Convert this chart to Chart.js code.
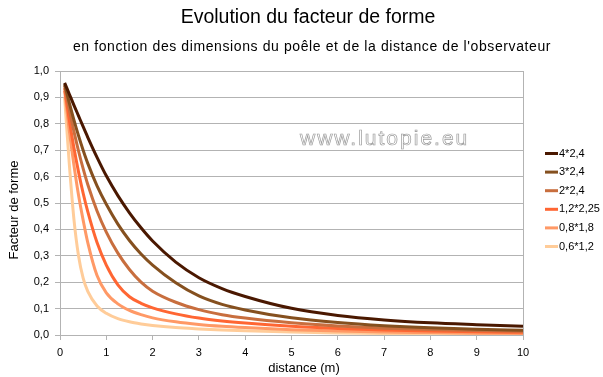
<!DOCTYPE html>
<html>
<head>
<meta charset="utf-8">
<script src="https://cdn.jsdelivr.net/npm/chart.js@4.4.1/dist/chart.umd.min.js"></script>
<style>
  html, body { margin: 0; padding: 0; background: #fff; }
  #box { width: 603px; height: 377px; }
</style>
</head>
<body>
<div id="box"><canvas id="myChart"></canvas></div>
<script>
// distances (m)
var distances = [0.1, 0.2, 0.3, 0.4, 0.5, 0.6, 0.8, 1, 1.25, 1.5, 1.75, 2, 2.5, 3, 3.5, 4, 5, 6, 7, 8, 9, 10];

// facteur de forme
var f4x24 = [0.955, 0.913, 0.871, 0.83, 0.789, 0.749, 0.673, 0.603, 0.528, 0.463, 0.406, 0.356, 0.276, 0.217, 0.176, 0.146, 0.101, 0.074, 0.057, 0.046, 0.039, 0.033];
var f3x24 = [0.95, 0.88, 0.815, 0.755, 0.70, 0.65, 0.565, 0.495, 0.42, 0.358, 0.307, 0.265, 0.198, 0.148, 0.116, 0.095, 0.065, 0.047, 0.035, 0.027, 0.022, 0.018];
var f2x24 = [0.945, 0.855, 0.772, 0.697, 0.63, 0.57, 0.47, 0.39, 0.31, 0.248, 0.2, 0.166, 0.124, 0.096, 0.077, 0.064, 0.046, 0.034, 0.026, 0.021, 0.017, 0.014];
var f12x225 = [0.935, 0.815, 0.71, 0.618, 0.537, 0.467, 0.35, 0.265, 0.19, 0.145, 0.12, 0.103, 0.08, 0.064, 0.053, 0.045, 0.033, 0.025, 0.019, 0.015, 0.012, 0.01];
var f08x18 = [0.925, 0.775, 0.645, 0.53, 0.435, 0.35, 0.225, 0.16, 0.118, 0.093, 0.077, 0.065, 0.05, 0.04, 0.033, 0.028, 0.02, 0.015, 0.011, 0.009, 0.007, 0.006];
var f06x12 = [0.9, 0.65, 0.44, 0.3, 0.215, 0.165, 0.11, 0.082, 0.062, 0.05, 0.042, 0.036, 0.028, 0.023, 0.019, 0.016, 0.011, 0.008, 0.006, 0.005, 0.004, 0.003];

var seriesLabels = ['4*2,4', '3*2,4', '2*2,4', '1,2*2,25', '0,8*1,8', '0,6*1,2'];
var seriesColors = ['#4a1800', '#85501f', '#c86e3e', '#ff6633', '#ff9966', '#ffcc99'];
var seriesValues = [f4x24, f3x24, f2x24, f12x225, f08x18, f06x12];

var xTickLabels = ['0', '1', '2', '3', '4', '5', '6', '7', '8', '9', '10'];
var yTickLabels = ['0,0', '0,1', '0,2', '0,3', '0,4', '0,5', '0,6', '0,7', '0,8', '0,9', '1,0'];

var FONT = '"Liberation Sans", Arial, sans-serif';
var GRID = '#b3b3b3';

var datasets = seriesValues.map(function (vals, i) {
    return {
        label: seriesLabels[i],
        data: vals.map(function (v, j) { return { x: distances[j], y: v }; }),
        borderColor: seriesColors[i],
        backgroundColor: seriesColors[i],
        borderWidth: 3,
        pointRadius: 0,
        cubicInterpolationMode: 'monotone',
        fill: false
    };
});

var textPlugin = {
    id: 'texts',
    afterDraw: function (chart) {
        var ctx = chart.ctx;
        ctx.save();
        ctx.fillStyle = '#000';
        ctx.textAlign = 'center';
        ctx.textBaseline = 'middle';
        ctx.font = '19.5px ' + FONT;
        ctx.fillText('Evolution du facteur de forme', 308, 18);
        ctx.font = '14px ' + FONT;
        ctx.letterSpacing = '0.6px';
        ctx.fillText("en fonction des dimensions du poêle et de la distance de l'observateur", 312, 47);
        ctx.letterSpacing = '0px';

        // axis titles
        ctx.font = '13px ' + FONT;
        ctx.fillText('distance (m)', 304, 368);
        ctx.save();
        ctx.translate(14, 210);
        ctx.rotate(-Math.PI / 2);
        ctx.fillText('Facteur de forme', 0, 0);
        ctx.restore();

        // watermark
        ctx.textAlign = 'left';
        ctx.textBaseline = 'alphabetic';
        ctx.font = '21px ' + FONT;
        ctx.letterSpacing = '2px';
        ctx.strokeStyle = '#9a9a9a';
        ctx.lineWidth = 0.7;
        ctx.strokeText('www.lutopie.eu', 300, 145);
        ctx.letterSpacing = '0px';

        // legend
        ctx.font = '11px ' + FONT;
        ctx.textBaseline = 'middle';
        chart.data.datasets.forEach(function (ds, i) {
            var y = 153.5 + i * 18.6;
            ctx.strokeStyle = ds.borderColor;
            ctx.lineWidth = 3;
            ctx.beginPath();
            ctx.moveTo(545, y);
            ctx.lineTo(558, y);
            ctx.stroke();
            ctx.fillStyle = '#000';
            ctx.fillText(ds.label, 559, y);
        });
        ctx.restore();
    }
};

var ctx = document.getElementById('myChart').getContext('2d');
var chart = new Chart(ctx, {
    type: 'line',
    data: { datasets: datasets },
    options: {
        responsive: true,
        maintainAspectRatio: false,
        animation: false,
        layout: { padding: { left: 0, right: 80, top: 71, bottom: 0 } },
        plugins: {
            legend: { display: false },
            tooltip: { enabled: false }
        },
        scales: {
            x: {
                type: 'linear',
                min: 0,
                max: 10,
                afterFit: function (s) { s.height = 42; },
                ticks: {
                    stepSize: 1,
                    color: '#000',
                    padding: 6,
                    font: { family: FONT, size: 11 },
                    callback: function (v, i) { return xTickLabels[i]; }
                },
                grid: {
                    color: function (c) { return c.tick && c.tick.value === 10 ? GRID : 'rgba(0,0,0,0)'; },
                    tickColor: GRID,
                    tickLength: 5,
                    lineWidth: 1
                },
                border: { color: GRID }
            },
            y: {
                min: 0,
                max: 1,
                afterFit: function (s) { s.width = 60; },
                ticks: {
                    stepSize: 0.1,
                    color: '#000',
                    padding: 6,
                    font: { family: FONT, size: 11 },
                    callback: function (v, i) { return yTickLabels[i]; }
                },
                grid: {
                    color: GRID,
                    tickColor: GRID,
                    tickLength: 5,
                    lineWidth: 1
                },
                border: { color: GRID }
            }
        }
    },
    plugins: [textPlugin]
});
</script>
</body>
</html>
